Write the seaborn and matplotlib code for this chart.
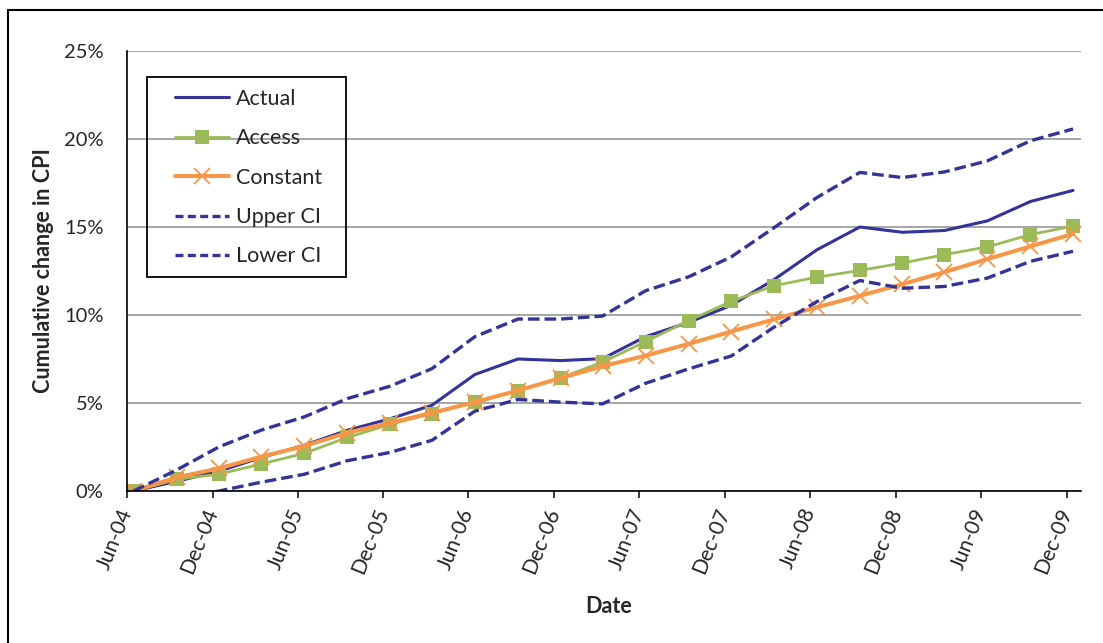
import matplotlib
matplotlib.use("Agg")
import matplotlib.pyplot as plt
import matplotlib.dates as mdates
from matplotlib.ticker import PercentFormatter, FixedLocator
from matplotlib.patches import Rectangle
from matplotlib.lines import Line2D
from matplotlib.legend_handler import HandlerLine2D
import pandas as pd
import seaborn as sns

# Quarterly observations, June 2004 to December 2009 (plotted mid-month)
quarters = pd.date_range("2004-06-01", "2009-12-01", freq="3MS") + pd.Timedelta(days=14)

# Cumulative change in CPI (%)
actual = [0.0, 0.55, 1.13, 1.9, 2.6, 3.45, 4.1, 4.87, 6.62, 7.5, 7.41, 7.52,
          8.77, 9.58, 10.55, 12.0, 13.7, 15.0, 14.7, 14.8, 15.35, 16.45, 17.08]
access = [0.0, 0.66, 0.96, 1.53, 2.14, 3.04, 3.78, 4.4, 5.05, 5.71, 6.43, 7.32,
          8.49, 9.68, 10.77, 11.66, 12.15, 12.53, 12.95, 13.43, 13.87, 14.57, 15.05]
constant = [0.0, 0.77, 1.29, 1.95, 2.55, 3.31, 3.87, 4.44, 5.05, 5.71, 6.41, 7.09,
            7.69, 8.36, 9.06, 9.75, 10.44, 11.09, 11.75, 12.44, 13.18, 13.9, 14.61]
upper_ci = [0.0, 1.19, 2.51, 3.46, 4.21, 5.25, 5.95, 6.95, 8.77, 9.77, 9.77, 9.94,
            11.38, 12.17, 13.3, 14.95, 16.67, 18.1, 17.81, 18.13, 18.76, 19.9, 20.57]
lower_ci = [0.0, -0.4, 0.0, 0.5, 0.95, 1.72, 2.19, 2.88, 4.54, 5.2, 5.05, 4.95,
            6.12, 6.94, 7.67, 9.3, 10.76, 11.96, 11.52, 11.62, 12.1, 13.05, 13.62]

tick_dates = pd.date_range("2004-06-01", "2009-12-01", freq="6MS")
y_ticks = [0, 5, 10, 15, 20, 25]

NAVY = "#333399"
GREEN = "#9BBB59"
ORANGE = "#F79646"

sns.set_style("white")
plt.rcParams["font.family"] = ["Lato", "DejaVu Sans"]

W, H = 1103, 643
fig = plt.figure(figsize=(W / 100, H / 100), dpi=100)
ax = fig.add_axes([127 / W, 1 - 491 / H, 954 / W, 440 / H])

dash = (0, (3.5, 1.5))
sns.lineplot(x=quarters, y=actual, ax=ax, color=NAVY, lw=2.2, label="Actual", zorder=3)
sns.lineplot(x=quarters, y=access, ax=ax, color=GREEN, lw=2.0, marker="s", markersize=10.5,
             markeredgecolor=GREEN, markeredgewidth=0, label="Access", zorder=4)
sns.lineplot(x=quarters, y=constant, ax=ax, color=ORANGE, lw=2.9, marker="x", markersize=12,
             markeredgecolor=ORANGE, markeredgewidth=1.3, label="Constant", zorder=5)
sns.lineplot(x=quarters, y=upper_ci, ax=ax, color=NAVY, lw=2.4, linestyle=dash,
             label="Upper CI", zorder=6)
sns.lineplot(x=quarters, y=lower_ci, ax=ax, color=NAVY, lw=2.4, linestyle=dash,
             label="Lower CI", zorder=6)

# Axes limits and ticks
ax.set_xlim(pd.Timestamp("2004-06-01"), pd.Timestamp("2010-01-01"))
ax.set_ylim(0, 25)
ax.yaxis.set_major_locator(FixedLocator(y_ticks))
ax.yaxis.set_major_formatter(PercentFormatter(decimals=0))
ax.set_xticks(tick_dates)
ax.xaxis.set_major_formatter(mdates.DateFormatter("%b-%y"))

ax.grid(axis="y", color="#a6a6a6", lw=1.4)
ax.grid(axis="x", visible=False)
ax.set_axisbelow(True)
for side in ("top", "right"):
    ax.spines[side].set_visible(False)
for side in ("left", "bottom"):
    ax.spines[side].set_color("black")
    ax.spines[side].set_linewidth(1.2)
    ax.spines[side].set_zorder(10)

ax.tick_params(axis="y", direction="out", length=5, width=1.1, color="black",
               labelsize=14.5, pad=12)
ax.tick_params(axis="x", direction="out", length=5, width=1.1, color="black",
               labelsize=15, pad=8, bottom=True)
for lbl in ax.get_xticklabels():
    lbl.set_rotation(68)
    lbl.set_rotation_mode("anchor")
    lbl.set_ha("right")
    lbl.set_va("center")

ax.set_xlabel("Date", fontsize=15.5, fontweight="bold")
ax.set_ylabel("Cumulative change in CPI", fontsize=15.5, fontweight="bold")
ax.xaxis.set_label_coords(0.505, -0.238)
ax.yaxis.set_label_coords(-0.077, 0.5)

# Legend with a square frame drawn around its contents
leg = ax.legend(loc="upper left", bbox_to_anchor=(175 / W, 1 - 89 / H),
                bbox_transform=fig.transFigure, frameon=False, fontsize=15.5,
                handlelength=2.5, handletextpad=0.35, labelspacing=0.9,
                borderpad=0, borderaxespad=0,
                handler_map={Line2D: HandlerLine2D()})
for h in leg.legend_handles:
    if h.get_linestyle() not in ("-", "solid"):
        h.set_linestyle((0, (2.4, 1.3)))
fig.canvas.draw()
bb = leg.get_window_extent()
x0, y0 = bb.x0 - 28, bb.y0 - 10
x1, y1 = bb.x1 + 24, bb.y1 + 12
fig.add_artist(Rectangle((x0 / W, y0 / H), (x1 - x0) / W, (y1 - y0) / H,
                         transform=fig.transFigure, fill=False, edgecolor="black",
                         lw=1.3, zorder=20))

# Outer chart border
fig.add_artist(Rectangle((8 / W, -0.05), 1.1, (1 - 10 / H) + 0.05,
                         transform=fig.transFigure, fill=False, edgecolor="black",
                         lw=1.5, clip_on=False))

fig.savefig("out.png", dpi=100)
